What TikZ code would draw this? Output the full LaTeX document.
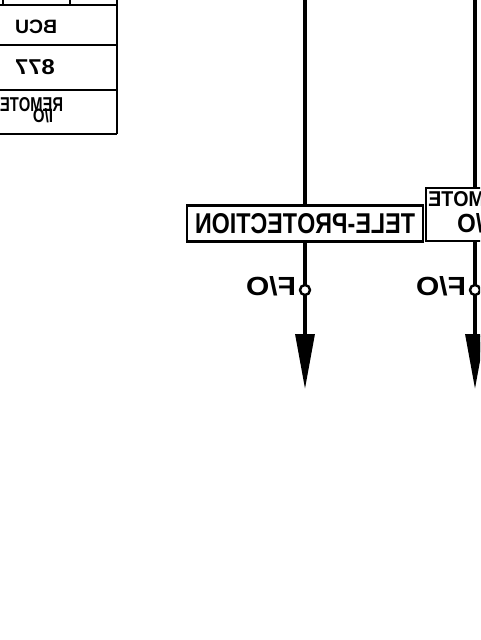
\documentclass[tikz,border=0pt]{standalone}
\usepackage{fontspec}
\setmainfont{Liberation Sans}
\usepackage{graphicx}
\usetikzlibrary{arrows.meta}
\tikzset{
  wire/.style={line width=3.2pt},
  boxline/.style={draw, line width=2.6pt, inner sep=0pt, font=\bfseries},
  tabline/.style={line width=2.2pt},
  bigtip/.style={-{Triangle[length=55pt,width=19pt]}},
  contact/.style={circle, draw, fill=white, line width=2.4pt, minimum size=10pt, inner sep=0pt},
  txt/.style={inner sep=0pt, font=\bfseries}
}
\newcommand{\mtext}[3]{\reflectbox{\resizebox{#1}{#2}{#3}}}
\begin{document}
\begin{tikzpicture}[x=1pt,y=-1pt]
\useasboundingbox (0,0) rectangle (480,640);
\clip (0,0) rectangle (480,640);
% left table
\draw[tabline] (-60,5) -- (117,5);
\draw[tabline] (-60,45) -- (117,45);
\draw[tabline] (-60,90) -- (117,90);
\draw[tabline] (-60,134) -- (117,134);
\draw[tabline] (117,-2) -- (117,134);
\draw[tabline] (3,-2) -- (3,5);
\draw[tabline] (70,-2) -- (70,5);
\node[txt] (bcu) at (36,26.5) {\mtext{42pt}{13.5pt}{BCU}};
\node[txt] (n877) at (35,67.5) {\mtext{40pt}{15pt}{877}};
\node[txt] (rem) at (31.5,104.5) {\mtext{63pt}{14pt}{REMOTE}};
\node[txt] (io) at (43,115.5) {\mtext{20pt}{14pt}{I/O}};
% tele-protection box
\node[boxline, minimum width=236pt, minimum height=36pt] (tp) at (305,223.5)
  {\mtext{220pt}{20pt}{TELE-PROTECTION}};
\node[boxline, minimum width=98pt, minimum height=53pt] (rio) at (475,214.5) {};
\node[txt, anchor=west] (rio1) at (428,199.5) {\mtext{84pt}{15pt}{REMOTE}};
\node[txt, anchor=west] (rio2) at (457,223) {\mtext{32pt}{19pt}{I/O}};
% wires
\coordinate (t1) at (305,-2);
\coordinate (t2) at (475,-2);
\coordinate (e1) at (305,389);
\coordinate (e2) at (475,389);
\draw[wire] (t1) -- (tp.north);
\draw[wire] (t2) -- (rio.north);
\draw[wire, bigtip] (tp.south) -- (e1);
\draw[wire, bigtip] (rio.south) -- (e2);
% contacts
\node[contact] (c1) at (305,290) {};
\node[contact] (c2) at (475,290) {};
\node[txt] (f1) at (271,286) {\mtext{50pt}{19pt}{F/O}};
\node[txt] (f2) at (441,286) {\mtext{50pt}{19pt}{F/O}};
\end{tikzpicture}
\end{document}
